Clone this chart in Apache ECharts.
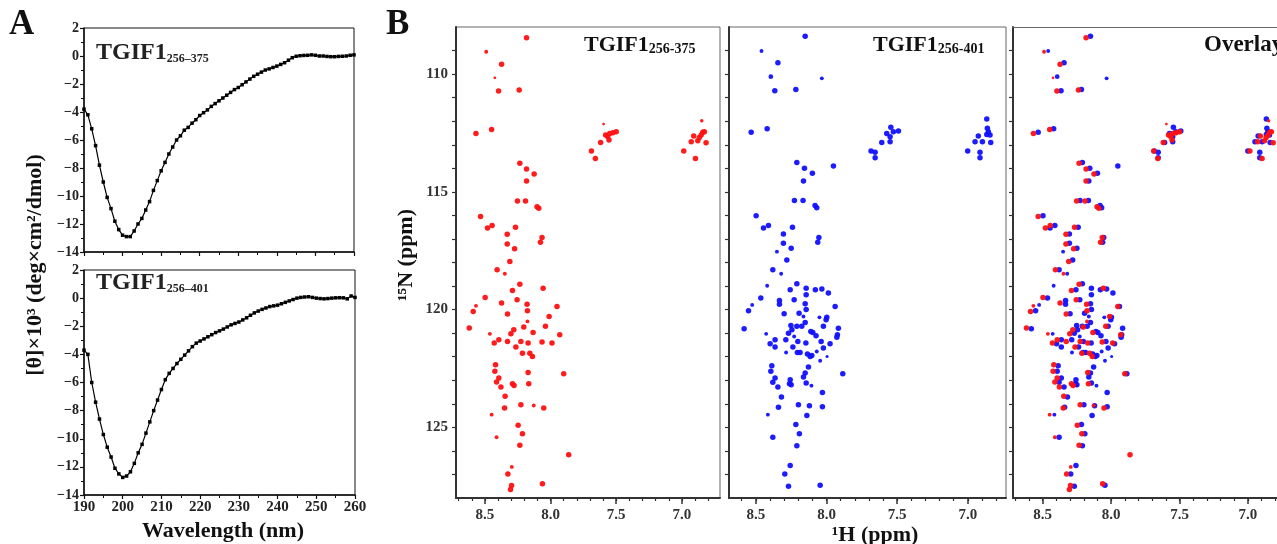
<!DOCTYPE html>
<html>
<head>
<meta charset="utf-8">
<script src="https://cdn.jsdelivr.net/npm/echarts@6/dist/echarts.min.js"></script>
<style>
html,body{margin:0;padding:0;background:#fff;}
#chart{width:1277px;height:544px;}
</style>
</head>
<body>
<div id="chart"></div>
<script>
// ---------- Panel A: CD spectra ----------
const wavelength = [190,191,192,193,194,195,196,197,198,199,200,201,202,203,204,205,206,207,208,209,
  210,211,212,213,214,215,216,217,218,219,220,221,222,223,224,225,226,227,228,229,
  230,231,232,233,234,235,236,237,238,239,240,241,242,243,244,245,246,247,248,249,
  250,251,252,253,254,255,256,257,258,259,260];
const cd375 = [-3.8,-4.2,-5.2,-6.4,-7.8,-9.0,-10.1,-10.9,-11.8,-12.4,-12.8,-12.9,-12.9,-12.5,-12.0,-11.6,-11.0,-10.4,-9.6,-8.9,
  -8.2,-7.6,-7.0,-6.5,-6.0,-5.7,-5.3,-5.1,-4.8,-4.55,-4.25,-4.05,-3.85,-3.6,-3.4,-3.2,-3.0,-2.8,-2.6,-2.4,
  -2.25,-2.05,-1.85,-1.65,-1.45,-1.3,-1.15,-1.0,-0.92,-0.82,-0.72,-0.6,-0.48,-0.3,-0.12,-0.02,0.02,0.04,0.05,0.08,
  0.05,0.0,0.0,-0.03,-0.05,-0.05,-0.03,-0.02,0.0,0.05,0.08];
const cd401 = [-3.7,-4.0,-6.0,-7.4,-8.6,-9.7,-10.6,-11.3,-12.1,-12.5,-12.75,-12.65,-12.35,-11.75,-11.0,-10.4,-9.6,-8.8,-8.0,-7.25,
  -6.5,-5.8,-5.35,-5.0,-4.65,-4.35,-4.05,-3.75,-3.45,-3.2,-3.05,-2.9,-2.75,-2.6,-2.45,-2.33,-2.2,-2.05,-1.9,-1.8,
  -1.7,-1.55,-1.4,-1.22,-1.05,-0.92,-0.8,-0.7,-0.6,-0.55,-0.5,-0.4,-0.3,-0.2,-0.1,0.0,0.05,0.08,0.1,0.05,
  0.0,-0.03,-0.05,-0.03,0.0,0.02,0.03,0.02,-0.05,0.15,0.05];

// ---------- Panel B: 1H-15N HSQC peaks [1H ppm, 15N ppm, relative intensity] ----------
const peaks375 = [
 [8.183,108.46,1],[8.49,109.05,0.6],[8.373,109.58,1],[8.424,110.16,0.3],[8.396,110.72,1],[8.239,110.68,1],
 [8.568,112.52,1],[8.449,112.35,1],
 [7.596,112.12,0.3],[7.619,112.9,1],[7.581,112.59,1],[7.55,112.52,1],[7.525,112.49,1],[7.50,112.45,1],[7.555,112.8,1],[7.565,112.65,1],[7.689,113.27,1],[7.659,113.58,1],
 [6.91,112.63,1],[6.929,112.87,1],[6.879,112.83,1],[6.853,112.59,1],[6.841,112.47,1],[6.829,112.45,1],[6.849,111.98,0.5],[6.816,112.91,1],[6.986,113.27,1],[6.897,113.58,1],[6.867,112.69,1],
 [8.234,113.79,1],[8.183,114.03,1],[8.125,114.24,1],[8.183,114.54,1],[8.252,115.39,1],[8.191,115.39,1],[8.103,115.63,1],[8.09,115.7,1],
 [8.533,116.05,1],[8.48,116.54,1],[8.445,116.43,1],[8.267,116.5,1],[8.33,116.8,1],[8.065,116.94,1],[8.077,117.14,1],[8.33,117.21,1],[8.274,117.42,1],[8.31,117.96,1],[8.407,118.31,1],[8.348,118.48,0.6],
 [8.234,118.92,1],[8.29,119.19,1],[8.057,119.09,1],[8.498,119.49,1],[8.568,119.84,0.6],[8.589,120.08,1],[8.373,119.72,1],[8.255,119.58,1],[8.179,119.77,1],[8.176,120.05,1],[7.951,119.87,1],[8.011,120.29,1],[8.328,120.19,1],[8.176,120.5,0.6],
 [8.619,120.78,1],[8.462,121.03,0.6],[8.28,120.86,1],[8.302,121.03,1],[8.204,120.74,1],[8.133,120.97,1],[8.039,120.71,1],[7.93,121.07,1],
 [8.429,121.42,1],[8.394,121.28,1],[8.328,121.35,1],[8.226,121.35,1],[8.171,121.42,1],[8.065,121.38,1],[7.989,121.42,1],[8.264,121.59,1],[8.214,121.85,1],[8.158,121.85,1],[8.138,121.99,1],
 [8.419,122.34,1],[8.424,122.62,1],[8.394,122.9,1],[8.411,123.07,1],[8.378,123.29,1],[8.346,123.68,1],[8.29,123.15,1],[8.278,123.22,1],[8.171,122.67,1],[8.166,123.15,1],[7.9,122.72,1],
 [8.35,124.18,1],[8.226,124.04,1],[8.128,124.07,0.6],[8.052,124.18,1],[8.449,124.46,0.6],[8.247,124.91,1],[8.214,125.27,1],[8.411,125.42,0.6],[8.234,125.76,1],[7.862,126.16,1],[8.295,126.68,0.6],[8.325,126.98,1],[8.297,127.47,1],[8.305,127.64,1],[8.062,127.4,1]
];
const peaks401 = [
 [8.151,108.39,1],[8.46,109.02,0.6],[8.344,109.52,1],[8.394,110.11,0.8],[8.033,110.18,0.6],[8.366,110.71,1],[8.217,110.65,1],[8.533,112.47,1],[8.42,112.32,1],
 [7.545,112.26,1],[7.574,112.52,1],[7.527,112.45,1],[7.491,112.42,1],[7.55,112.66,1],[7.55,112.87,1],[7.609,112.9,1],[7.685,113.27,1],[7.656,113.32,1],[7.656,113.55,1],
 [6.866,111.91,1],[6.862,112.3,1],[6.855,112.45,1],[6.866,112.56,1],[6.843,112.59,1],[6.926,112.63,1],[6.949,112.87,1],[6.897,112.87,1],[6.838,112.9,1],[7.001,113.27,1],[6.914,113.32,1],[6.914,113.55,1],
 [8.21,113.75,1],[8.156,114.0,1],[8.1,114.21,1],[7.951,113.9,1],[8.163,114.54,1],[8.227,115.37,1],[8.166,115.37,1],[8.081,115.58,1],[8.069,115.67,1],
 [8.498,116.02,1],[8.446,116.54,1],[8.411,116.43,1],[8.241,116.5,1],[8.305,116.79,1],[8.054,116.94,1],[8.062,117.14,1],[8.305,117.18,1],[8.25,117.39,1],[8.351,117.54,0.6],[8.281,117.89,1],[8.38,118.31,1],[8.321,118.48,0.6],
 [8.42,118.99,0.6],[8.21,118.9,1],[8.257,119.16,1],[8.144,119.09,1],[8.144,119.37,1],[8.079,119.16,1],[8.033,119.12,1],[7.987,119.3,1],[8.465,119.51,1],[8.526,119.8,0.6],[8.552,120.05,1],[8.333,119.61,1],[8.333,119.77,1],[8.229,119.58,1],[8.151,119.75,1],[8.144,120.0,1],[7.939,119.87,1],[8.3,120.18,1],[8.194,120.15,1],[8.163,120.29,0.6],[7.998,120.32,1],[8.003,120.43,1],[8.05,120.33,0.6],
 [8.583,120.81,1],[8.427,121.03,0.6],[8.252,120.67,1],[8.245,120.86,1],[8.269,121.0,1],[8.21,120.71,1],[8.175,120.71,1],[8.151,120.55,1],[8.111,120.93,1],[8.097,120.97,1],[8.074,121.11,1],[8.022,120.71,1],[7.916,120.79,1],[7.923,121.07,1],[7.927,121.17,1],[8.229,121.14,0.6],
 [8.364,121.28,1],[8.399,121.45,1],[8.364,121.59,1],[8.288,121.28,1],[8.203,121.35,1],[8.146,121.42,1],[8.038,121.35,1],[7.975,121.45,1],[8.238,121.59,1],[8.022,121.63,1],[8.286,121.82,0.6],[8.206,121.82,1],[8.187,121.82,1],[8.135,121.89,1],[8.116,121.99,1],[8.104,121.95,1],[8.069,121.78,0.6],[8.045,122.17,0.6],[7.996,121.99,0.4],
 [8.387,122.38,1],[8.394,122.62,1],[8.128,122.44,1],[8.151,122.69,1],[8.163,122.86,1],[8.364,122.9,1],[8.38,123.09,1],[8.344,123.29,1],[8.257,122.98,1],[8.262,123.15,1],[8.25,123.19,1],[8.144,123.12,1],[8.107,123.23,0.6],[7.885,122.72,1],
 [8.319,123.71,1],[8.34,124.15,1],[8.199,124.04,1],[8.121,124.08,1],[8.029,123.52,1],[8.029,124.13,1],[8.415,124.46,0.6],[8.139,124.5,1],[8.217,124.88,1],[8.192,125.27,1],[8.38,125.42,1],[8.21,125.78,1],[8.257,126.62,1],[8.295,126.98,1],[8.269,127.5,1],[8.045,127.46,1]
];
const hLabelTicks = [7.0,7.5,8.0,8.5];
const hMinorTicks = [6.8,6.9,7.0,7.1,7.2,7.3,7.4,7.5,7.6,7.7,7.8,7.9,8.0,8.1,8.2,8.3,8.4,8.5,8.6,8.7];
const nLabelTicks = [110,115,120,125];
const nMinorTicks = [109,110,111,112,113,114,115,116,117,118,119,120,121,122,123,124,125,126,127];

// ---------- build option ----------
const SERIF = '"Liberation Serif","Times New Roman",serif';
const chart = echarts.init(document.getElementById('chart'), null, {renderer:'canvas'});
const minus = v => String(v).replace('-', '\u2212');
const lbl = {fontFamily:SERIF, fontWeight:'bold', fontSize:15, color:'#222'};

const gridsB = [
  {left:456, top:27, width:264, height:471, min:6.71, max:8.72, frame:true},
  {left:729, top:27, width:277, height:471, min:6.73, max:8.69, frame:true},
  {left:1013, top:27, width:264, height:471, min:6.788, max:8.717, frame:false}
];

const grid = [
  {left:84, top:28, width:270, height:224, show:true, borderColor:'#111', borderWidth:1},
  {left:84, top:270, width:271, height:225, show:true, borderColor:'#111', borderWidth:1}
];
gridsB.forEach(g => grid.push({left:g.left, top:g.top, width:g.width, height:g.height,
  show:g.frame, borderColor:'#666', borderWidth:1}));

const xAxis = [];
const yAxis = [];
[0,1].forEach(i => {
  xAxis.push({gridIndex:i, type:'value', min:190, max:260, interval:10,
    axisLine:{onZero:false, lineStyle:{color:'#111', width:1.5}},
    axisTick:{show:true, inside:false, length:4, lineStyle:{color:'#111', width:1.2}},
    minorTick:{show:true, splitNumber:2, length:3, lineStyle:{color:'#111', width:1}},
    splitLine:{show:false}, minorSplitLine:{show:false},
    axisLabel:Object.assign({show:i===1, margin:5}, lbl, {fontSize:15})
  });
  yAxis.push({gridIndex:i, type:'value', min:-14, max:2, interval:2,
    axisLine:{onZero:false, lineStyle:{color:'#111', width:1.5}},
    axisTick:{show:true, inside:false, length:4, lineStyle:{color:'#111', width:1.2}},
    minorTick:{show:true, splitNumber:2, length:3, lineStyle:{color:'#111', width:1}},
    splitLine:{show:false}, minorSplitLine:{show:false},
    axisLabel:Object.assign({show:true, margin:5, formatter:minus}, lbl, {fontSize:14})
  });
});
gridsB.forEach((g, k) => {
  const gi = k + 2;
  xAxis.push({gridIndex:gi, type:'value', inverse:true, min:g.min, max:g.max, position:'bottom',
    axisLine:{onZero:false, lineStyle:{color:'#333', width:2}},
    axisTick:{show:true, inside:false, length:6, customValues:hLabelTicks, lineStyle:{color:'#333', width:1.5}},
    splitLine:{show:false},
    axisLabel:Object.assign({show:true, margin:10, customValues:hLabelTicks, formatter:v => v.toFixed(1)}, lbl, {color:'#333'})
  });
  xAxis.push({gridIndex:gi, type:'value', inverse:true, min:g.min, max:g.max, position:'bottom',
    axisLine:{show:false, onZero:false},
    axisTick:{show:true, inside:false, length:3, customValues:hMinorTicks, lineStyle:{color:'#333', width:1.2}},
    splitLine:{show:false},
    axisLabel:{show:false}
  });
  yAxis.push({gridIndex:gi, type:'value', inverse:true, min:108, max:128,
    axisLine:{onZero:false, lineStyle:{color:'#333', width:2}},
    axisTick:{show:true, inside:false, length:4, customValues:nMinorTicks, lineStyle:{color:'#333', width:1.2}},
    splitLine:{show:false},
    axisLabel:Object.assign({show:k===0, margin:8, customValues:nLabelTicks}, lbl, {color:'#333'})
  });
});
// top frame line of the overlay panel (its right edge lies outside the picture)
xAxis.push({gridIndex:4, type:'value', inverse:true, min:6.788, max:8.717, position:'top',
  axisLine:{onZero:false, lineStyle:{color:'#666', width:1}}, axisTick:{show:false},
  axisLabel:{show:false}, splitLine:{show:false}});

const toPairs = (xs, ys) => xs.map((x, i) => [x, ys[i]]);
const dotSize = d => 1.5 + 4 * d[2];
const series = [
  {type:'line', xAxisIndex:0, yAxisIndex:0, data:toPairs(wavelength, cd375),
   symbol:'rect', symbolSize:3.5, lineStyle:{color:'#000', width:1.2}, itemStyle:{color:'#000'}},
  {type:'line', xAxisIndex:1, yAxisIndex:1, data:toPairs(wavelength, cd401),
   symbol:'rect', symbolSize:3.5, lineStyle:{color:'#000', width:1.2}, itemStyle:{color:'#000'}},
  {type:'scatter', xAxisIndex:2, yAxisIndex:2, data:peaks375, symbolSize:dotSize, itemStyle:{color:'#ff1010', opacity:0.95}},
  {type:'scatter', xAxisIndex:4, yAxisIndex:3, data:peaks401, symbolSize:dotSize, itemStyle:{color:'#1010ff', opacity:0.95}},
  {type:'scatter', xAxisIndex:6, yAxisIndex:4, data:peaks401, symbolSize:dotSize, itemStyle:{color:'#1010ff', opacity:0.95}},
  {type:'scatter', xAxisIndex:6, yAxisIndex:4, data:peaks375, symbolSize:dotSize, itemStyle:{color:'#ff1010', opacity:0.95}}
];

const richTitle = (big, small, bigSize, smallSize, color) => ({
  text:'{a|' + big + '}{b|' + small + '}',
  rich:{
    a:{fontFamily:SERIF, fontWeight:'bold', fontSize:bigSize, fill:color, lineHeight:bigSize + 4, verticalAlign:'bottom'},
    b:{fontFamily:SERIF, fontWeight:'bold', fontSize:smallSize, fill:color, lineHeight:6, verticalAlign:'bottom'}
  }
});
const txt = (s, size) => ({text:s, fontFamily:SERIF, fontWeight:'bold', fontSize:size, fill:'#111'});

const graphic = [
  {type:'text', left:9, top:7, style:txt('A', 35)},
  {type:'text', left:386, top:7, style:txt('B', 35)},
  {type:'text', left:96, top:41, style:richTitle('TGIF1', '256\u2013375', 24, 12, '#222')},
  {type:'text', left:96, top:271, style:richTitle('TGIF1', '256\u2013401', 24, 12, '#222')},
  {type:'text', left:584, top:34, style:richTitle('TGIF1', '256-375', 22, 14, '#111')},
  {type:'text', left:873, top:34, style:richTitle('TGIF1', '256-401', 22, 14, '#111')},
  {type:'text', left:1204, top:34, style:txt('Overlay', 23)},
  {type:'text', x:35, y:265, rotation:Math.PI/2,
   style:Object.assign(txt('[\u03b8]\u00d710\u00b3 (deg\u00d7cm\u00b2/dmol)', 22), {align:'center', verticalAlign:'middle'})},
  {type:'text', x:223, y:531, style:Object.assign(txt('Wavelength (nm)', 22), {align:'center', verticalAlign:'middle'})},
  {type:'text', x:406, y:255, rotation:Math.PI/2,
   style:Object.assign(txt('\u00b9\u2075N (ppm)', 22), {align:'center', verticalAlign:'middle'})},
  {type:'text', x:875, y:535, style:Object.assign(txt('\u00b9H (ppm)', 22), {align:'center', verticalAlign:'middle'})}
];

chart.setOption({animation:false, backgroundColor:'#fff', grid, xAxis, yAxis, series, graphic});
</script>
</body>
</html>
